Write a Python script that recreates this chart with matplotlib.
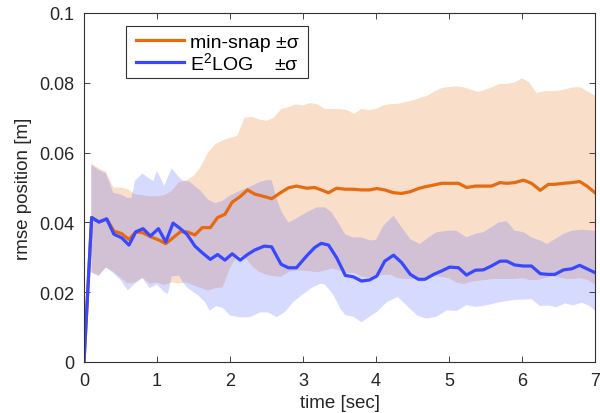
import numpy as np
import matplotlib
matplotlib.use("Agg")
import matplotlib.pyplot as plt
from matplotlib.patches import Rectangle

plt.rcParams['font.family'] = ['Liberation Sans', 'DejaVu Sans']
plt.rcParams['mathtext.fontset'] = 'custom'
plt.rcParams['mathtext.rm'] = 'Liberation Sans'
plt.rcParams['mathtext.it'] = 'Liberation Sans:italic'

# ---- data: mean lines ----
t_line = [0, 0.105, 0.205, 0.31, 0.41, 0.515, 0.616, 0.71, 0.81, 0.91, 1.02, 1.12, 1.22,
          1.32, 1.41, 1.52, 1.62, 1.73, 1.83, 1.93, 2.03, 2.14, 2.24, 2.34, 2.47, 2.57,
          2.70, 2.80, 2.91, 3.05, 3.16, 3.25, 3.35, 3.46, 3.58, 3.69, 3.80, 3.91, 4.01,
          4.12, 4.24, 4.35, 4.47, 4.58, 4.67, 4.79, 4.90, 5.01, 5.13, 5.24, 5.36, 5.47,
          5.58, 5.70, 5.79, 5.90, 6.02, 6.13, 6.25, 6.36, 6.45, 6.57, 6.68, 6.79, 6.89, 7.00]

e2log_mean = [0, 0.0414, 0.0401, 0.0410, 0.0366, 0.0356, 0.0335, 0.0373, 0.0382, 0.0361,
              0.0382, 0.0344, 0.0398, 0.0382, 0.0366, 0.0332, 0.0313, 0.0294, 0.0308, 0.0292,
              0.0310, 0.0292, 0.0308, 0.0321, 0.0332, 0.0330, 0.0280, 0.0270, 0.0270, 0.0304,
              0.0328, 0.0340, 0.0335, 0.0299, 0.0248, 0.0244, 0.0232, 0.0235, 0.0246, 0.0289,
              0.0306, 0.0285, 0.0251, 0.0237, 0.0237, 0.0251, 0.0261, 0.0272, 0.0270, 0.0249,
              0.0263, 0.0264, 0.0275, 0.0289, 0.0289, 0.0278, 0.0275, 0.0275, 0.0253, 0.0251,
              0.0251, 0.0264, 0.0267, 0.0277, 0.0267, 0.0256]

minsnap_mean = [0, 0.0414, 0.0401, 0.0410, 0.0375, 0.0368, 0.0351, 0.0373, 0.0370, 0.0359,
                0.0350, 0.0339, 0.0356, 0.0373, 0.0373, 0.0364, 0.0385, 0.0385, 0.0414, 0.0423,
                0.0458, 0.0474, 0.0493, 0.0481, 0.0474, 0.0468, 0.0486, 0.0499, 0.0504, 0.0498,
                0.0500, 0.0493, 0.0485, 0.0498, 0.0495, 0.0495, 0.0493, 0.0493, 0.0497, 0.0493,
                0.0485, 0.0483, 0.0488, 0.0497, 0.0502, 0.0507, 0.0512, 0.0512, 0.0512, 0.0500,
                0.0504, 0.0504, 0.0504, 0.0514, 0.0512, 0.0514, 0.0521, 0.0512, 0.0492, 0.0509,
                0.0509, 0.0512, 0.0514, 0.0517, 0.0504, 0.0485]

# ---- data: min-snap +/- sigma band ----
t_ms_up = [0.1, 0.2, 0.3, 0.4, 0.5, 0.6, 0.7, 0.8, 0.9, 1.0, 1.1, 1.2, 1.3, 1.4, 1.5, 1.6,
           1.7, 1.8, 1.9, 2.0, 2.1, 2.2, 2.3, 2.4, 2.5, 2.6, 2.7, 2.8, 2.9, 3.0, 3.1, 3.2,
           3.3, 3.4, 3.5, 3.6, 3.7, 3.8, 3.9, 4.0, 4.1, 4.2, 4.3, 4.4, 4.5, 4.6, 4.7, 4.8,
           4.9, 5.0, 5.1, 5.2, 5.3, 5.4, 5.5, 5.6, 5.7, 5.8, 5.9, 6.0, 6.1, 6.2, 6.3, 6.4,
           6.5, 6.6, 6.7, 6.8, 6.9, 7.0]
minsnap_up = [0.0568, 0.0555, 0.0545, 0.0500, 0.0500, 0.0495, 0.0480, 0.0478, 0.0475, 0.0475,
              0.0478, 0.0490, 0.0515, 0.0520, 0.0533, 0.0560, 0.0600, 0.0625, 0.0635, 0.0642,
              0.0648, 0.0700, 0.0702, 0.0695, 0.0691, 0.0700, 0.0725, 0.0730, 0.0738, 0.0735,
              0.0742, 0.0738, 0.0725, 0.0725, 0.0725, 0.0722, 0.0711, 0.0725, 0.0722, 0.0725,
              0.0735, 0.0739, 0.0740, 0.0744, 0.0750, 0.0756, 0.0763, 0.0775, 0.0785, 0.0788,
              0.0790, 0.0787, 0.0780, 0.0774, 0.0780, 0.0788, 0.0797, 0.0797, 0.0801, 0.0813,
              0.0801, 0.0770, 0.0776, 0.0776, 0.0777, 0.0782, 0.0787, 0.0787, 0.0775, 0.0763]
t_ms_lo = t_ms_up
minsnap_lo = [0.0257, 0.0247, 0.0271, 0.0259, 0.0242, 0.0225, 0.0228, 0.0242, 0.0225, 0.0228,
              0.0220, 0.0228, 0.0225, 0.0228, 0.0220, 0.0212, 0.0205, 0.0212, 0.0214, 0.0270,
              0.0305, 0.0302, 0.0275, 0.0258, 0.0250, 0.0246, 0.0244, 0.0258, 0.0262, 0.0262,
              0.0260, 0.0257, 0.0262, 0.0268, 0.0262, 0.0255, 0.0255, 0.0245, 0.0242, 0.0245,
              0.0250, 0.0250, 0.0240, 0.0238, 0.0238, 0.0240, 0.0246, 0.0246, 0.0244, 0.0240,
              0.0228, 0.0223, 0.0230, 0.0233, 0.0235, 0.0238, 0.0238, 0.0238, 0.0238, 0.0240,
              0.0235, 0.0235, 0.0240, 0.0245, 0.0243, 0.0238, 0.0238, 0.0240, 0.0235, 0.0222]

# ---- data: E2LOG +/- sigma band ----
t_e2_up = [0.1, 0.2, 0.3, 0.4, 0.5, 0.6, 0.65, 0.7, 0.8, 0.9, 0.95, 1.0, 1.1, 1.2, 1.3, 1.35,
           1.45, 1.6, 1.7, 1.8, 1.9, 2.0, 2.1, 2.2, 2.3, 2.4, 2.5, 2.57, 2.64, 2.71, 2.8,
           2.9, 3.05, 3.19, 3.3, 3.39, 3.48, 3.58, 3.69, 3.8, 3.92, 4.0, 4.1, 4.24, 4.35,
           4.47, 4.6, 4.72, 4.83, 4.99, 5.1, 5.24, 5.36, 5.47, 5.58, 5.68, 5.79, 5.9, 6.02,
           6.13, 6.25, 6.34, 6.45, 6.57, 6.68, 6.82, 7.0]
e2log_up = [0.0565, 0.0550, 0.0540, 0.0485, 0.0480, 0.0470, 0.0470, 0.0520, 0.0540, 0.0525,
            0.0518, 0.0548, 0.0505, 0.0555, 0.0530, 0.0520, 0.0516, 0.0490, 0.0465, 0.0455,
            0.0462, 0.0477, 0.0487, 0.0496, 0.0505, 0.0515, 0.0521, 0.0521, 0.0467, 0.0429,
            0.0400, 0.0410, 0.0429, 0.0443, 0.0443, 0.0429, 0.0400, 0.0365, 0.0357, 0.0357,
            0.0348, 0.0350, 0.0390, 0.0419, 0.0386, 0.0352, 0.0338, 0.0357, 0.0372, 0.0376,
            0.0376, 0.0357, 0.0367, 0.0372, 0.0386, 0.0400, 0.0403, 0.0376, 0.0372, 0.0357,
            0.0348, 0.0338, 0.0352, 0.0367, 0.0376, 0.0379, 0.0376]
t_e2_lo = [0.1, 0.2, 0.3, 0.4, 0.5, 0.6, 0.7, 0.8, 0.9, 1.0, 1.1, 1.15, 1.2, 1.3, 1.4, 1.5,
           1.57, 1.66, 1.72, 1.81, 1.9, 2.0, 2.14, 2.27, 2.41, 2.52, 2.64, 2.75, 2.87, 2.98,
           3.1, 3.23, 3.3, 3.42, 3.51, 3.58, 3.69, 3.8, 3.9, 4.01, 4.15, 4.3, 4.42, 4.56,
           4.69, 4.83, 4.97, 5.1, 5.24, 5.35, 5.45, 5.57, 5.68, 5.9, 6.13, 6.25, 6.36, 6.47,
           6.59, 6.7, 6.82, 6.93, 7.0]
e2log_lo = [0.0257, 0.0247, 0.0271, 0.0255, 0.0235, 0.0205, 0.0225, 0.0240, 0.0212, 0.0222,
            0.0200, 0.0195, 0.0245, 0.0248, 0.0215, 0.0200, 0.0190, 0.0171, 0.0147, 0.0160,
            0.0155, 0.0133, 0.0128, 0.0128, 0.0142, 0.0142, 0.0129, 0.0143, 0.0172, 0.0191,
            0.0210, 0.0224, 0.0222, 0.0191, 0.0153, 0.0134, 0.0130, 0.0114, 0.0128, 0.0143,
            0.0172, 0.0186, 0.0162, 0.0134, 0.0124, 0.0130, 0.0148, 0.0146, 0.0163, 0.0158,
            0.0160, 0.0165, 0.0171, 0.0178, 0.0180, 0.0160, 0.0162, 0.0157, 0.0168, 0.0162,
            0.0170, 0.0160, 0.0147]

xticks = [0, 1, 2, 3, 4, 5, 6, 7]
yticks = [0, 0.02, 0.04, 0.06, 0.08, 0.1]
ytick_labels = ['0', '0.02', '0.04', '0.06', '0.08', '0.1']
legend_labels = ['min-snap \u00b1\u03c3', 'E$^{\\mathregular{2}}$LOG    \u00b1\u03c3']

c_orange = '#E66A0E'
c_blue = '#3748FF'

fig = plt.figure(figsize=(6.0, 4.14), dpi=100)
ax = fig.add_axes([0.14, 0.1232, 0.8517, 0.843])

def band(ax, tu, up, tl, lo, color, alpha):
    xs = np.concatenate([np.asarray(tu), np.asarray(tl)[::-1]])
    ys = np.concatenate([np.asarray(up), np.asarray(lo)[::-1]])
    ax.fill(xs, ys, color=color, alpha=alpha, linewidth=0, zorder=1)

band(ax, t_ms_up, minsnap_up, t_ms_lo, minsnap_lo, c_orange, 0.22)
l1, = ax.plot(t_line, minsnap_mean, color=c_orange, lw=2.3, zorder=2,
              solid_joinstyle='round')
band(ax, t_e2_up, e2log_up, t_e2_lo, e2log_lo, c_blue, 0.2)
l2, = ax.plot(t_line, e2log_mean, color=c_blue, lw=2.3, zorder=4,
              solid_joinstyle='round')

ax.set_xlim(0, 7)
ax.set_ylim(0, 0.1)
ax.set_xticks(xticks)
ax.set_yticks(yticks)
ax.set_yticklabels(ytick_labels)
ax.tick_params(direction='in', top=True, right=True, length=4, width=0.6,
               labelsize=13, colors='#262626', pad=7)
for s in ax.spines.values():
    s.set_linewidth(0.8)
    s.set_color('#333333')
    s.set_zorder(5)

ax.set_xlabel('time [sec]', fontsize=13.5, color='#262626', labelpad=4)
ax.set_ylabel('rmse position [m]', fontsize=13.5, color='#262626', labelpad=5)

# legend frame drawn as a box in axes coordinates
ax.add_patch(Rectangle((0.0822, 0.8138), 0.3562, 0.149, transform=ax.transAxes,
                       facecolor='white', edgecolor='#333333', linewidth=0.8, zorder=6))
leg = ax.legend([l1, l2], legend_labels,
                loc='upper left', bbox_to_anchor=(0.1018, 0.941), borderaxespad=0,
                fontsize=14, frameon=False, handlelength=2.47, handletextpad=0.31,
                labelspacing=0.0, borderpad=0)
leg.set_zorder(7)

fig.savefig('out.png', dpi=100)
